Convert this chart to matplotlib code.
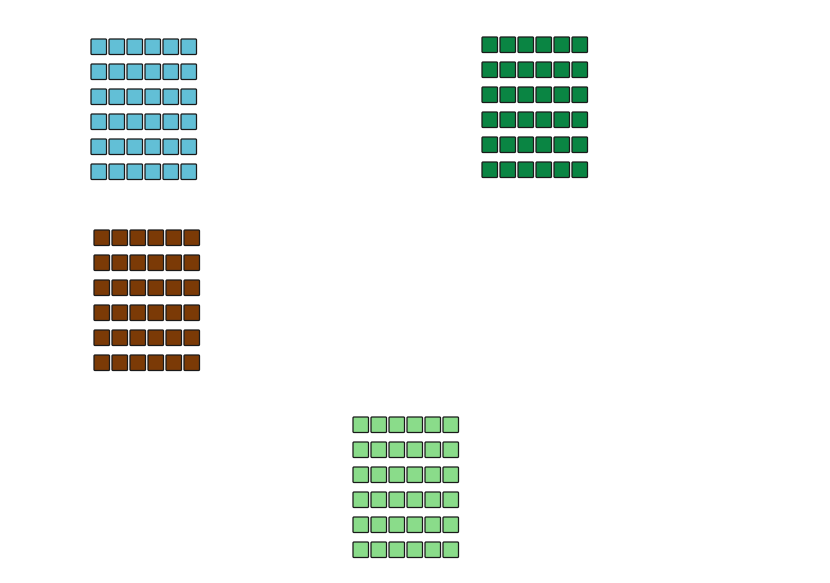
import matplotlib
matplotlib.use("Agg")
import matplotlib.pyplot as plt
from matplotlib.patches import FancyBboxPatch

# data: four groups, units shown as waffle squares
groups = ["A", "B", "C", "D"]
counts = [36, 36, 36, 36]
n_cols = 6
colors = ["#62bfd6", "#0a8543", "#7b3a06", "#8adc8a"]

# layout (pixel origin of each group's top-left square)
origins = [(91, 39), (482, 37), (94, 230), (353, 417)]
cell_w, cell_h = 15.5, 15.5
step_x, step_y = 18, 25

fig = plt.figure(figsize=(8.3, 5.83), dpi=100)
ax = fig.add_axes([0, 0, 1, 1])
ax.set_xlim(0, 830)
ax.set_ylim(583, 0)
ax.axis("off")

for g, n, c, (ox, oy) in zip(groups, counts, colors, origins):
    for i in range(n):
        r, k = divmod(i, n_cols)
        x = ox + k * step_x
        y = oy + r * step_y
        ax.add_patch(FancyBboxPatch((x + 0.5, y + 0.5), cell_w - 1, cell_h - 1,
                                    boxstyle="round,pad=0.5,rounding_size=1",
                                    facecolor=c, edgecolor="#1a1a1a", linewidth=0.9))

fig.savefig("out.png", dpi=100)
